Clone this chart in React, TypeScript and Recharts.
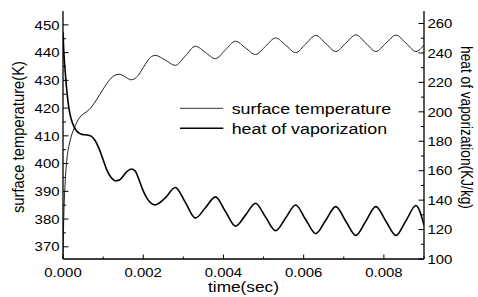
import React from 'react';
import { LineChart, Line, XAxis, YAxis, Legend } from 'recharts';

const times = [
  0, 0.00002, 0.00005, 0.0001, 0.00015, 0.0002, 0.0003, 0.0004, 0.0005, 0.0006,
  0.0007, 0.0008, 0.0009, 0.001, 0.0011, 0.0012, 0.0013, 0.0014, 0.0015, 0.0016,
  0.0017, 0.0018, 0.0019, 0.002, 0.0021, 0.0022, 0.0023, 0.00255, 0.0028, 0.00305,
  0.0033, 0.00355, 0.0038, 0.00405, 0.0043, 0.00455, 0.0048, 0.00505, 0.0053, 0.00555,
  0.0058, 0.00605, 0.0063, 0.00655, 0.0068, 0.00705, 0.0073, 0.00755, 0.0078, 0.00805,
  0.0083, 0.00855, 0.0088, 0.009,
];

const surfaceTemperature = [
  366, 381, 392, 402, 406.5, 409.5, 413.5, 416.3, 417.8, 418.8,
  420.2, 422.2, 424.5, 426.8, 429, 430.8, 431.9, 432.2, 431.7, 430.8,
  430.2, 430.7, 432.3, 434.6, 436.9, 438.5, 439, 437.3, 435.4, 438.8,
  442.3, 440.1, 437.8, 441, 444.1, 441.7, 439.3, 442.3, 445.3, 442.7,
  440, 443.1, 446.2, 443.3, 440.4, 443.4, 446.4, 443.4, 440.4, 443.4,
  446.3, 443.4, 440.4, 442.8,
];

const heatOfVaporization = [
  254, 241, 229, 213, 202, 195.5, 188.5, 185.5, 184.5, 184.3,
  183.5, 180.5, 175, 167.5, 160, 155.3, 153.2, 153.6, 156.3, 159.6,
  161.2, 159.8, 153.5, 146.3, 141, 137.8, 136.8, 141.5, 148.6, 138.5,
  127.8, 134.8, 142.2, 132.3, 122.3, 129.8, 137.9, 128.5, 119.3, 127.8,
  136.7, 126.8, 117.2, 126.3, 135.6, 125.7, 116, 125.7, 135.6, 125.7,
  116, 126, 136.3, 123,
];

const xTicks = [0, 0.001, 0.002, 0.003, 0.004, 0.005, 0.006, 0.007, 0.008, 0.009];
const xMajorTicks = [0, 0.002, 0.004, 0.006, 0.008];
const leftTicks = [370, 375, 380, 385, 390, 395, 400, 405, 410, 415, 420, 425, 430, 435, 440, 445, 450];
const leftMajorTicks = [370, 380, 390, 400, 410, 420, 430, 440, 450];
const rightTicks = [100, 110, 120, 130, 140, 150, 160, 170, 180, 190, 200, 210, 220, 230, 240, 250, 260];
const rightMajorTicks = [100, 120, 140, 160, 180, 200, 220, 240, 260];

const seriesNames = ['surface temperature', 'heat of vaporization'];

const data = times.map((t, i) => ({
  t,
  temp: surfaceTemperature[i],
  heat: heatOfVaporization[i],
}));

const FONT = '"Liberation Sans", Arial, Helvetica, sans-serif';
const SX = 1.15;
const TICK_FS = 13;

const isMajor = (v: number, list: number[]) => list.some((m) => Math.abs(m - v) < 1e-9);

function BottomTick(props: any) {
  const { x, y, payload } = props;
  const major = isMajor(payload.value, xMajorTicks);
  return (
    <g>
      <line x1={x} x2={x} y1={y} y2={y - (major ? 4.5 : 2.5)} stroke="#000" strokeWidth={1} />
      {major && (
        <text
          transform={`translate(${x},${y + 18}) scale(${SX},1)`}
          textAnchor="middle"
          fontSize={TICK_FS}
          fontFamily={FONT}
          fill="#000"
        >
          {Number(payload.value).toFixed(3)}
        </text>
      )}
    </g>
  );
}

function TopTick(props: any) {
  const { x, y, payload } = props;
  const major = isMajor(payload.value, xMajorTicks);
  return (
    <g>
      <line x1={x} x2={x} y1={y} y2={y + (major ? 4.5 : 2.5)} stroke="#000" strokeWidth={1} />
    </g>
  );
}

function LeftTick(props: any) {
  const { x, y, payload } = props;
  const major = isMajor(payload.value, leftMajorTicks);
  return (
    <g>
      <line x1={x} x2={x + (major ? 5.5 : 3)} y1={y} y2={y} stroke="#000" strokeWidth={1} />
      {major && (
        <text
          transform={`translate(${x - 3.5},${y}) scale(${SX},1)`}
          textAnchor="end"
          dy="0.36em"
          fontSize={TICK_FS}
          fontFamily={FONT}
          fill="#000"
        >
          {payload.value}
        </text>
      )}
    </g>
  );
}

function RightTick(props: any) {
  const { x, y, payload } = props;
  const major = isMajor(payload.value, rightMajorTicks);
  return (
    <g>
      <line x1={x} x2={x - (major ? 5.5 : 3)} y1={y} y2={y} stroke="#000" strokeWidth={1} />
      {major && (
        <text
          transform={`translate(${x + 3.5},${y}) scale(${SX},1)`}
          textAnchor="start"
          dy="0.36em"
          fontSize={TICK_FS}
          fontFamily={FONT}
          fill="#000"
        >
          {payload.value}
        </text>
      )}
    </g>
  );
}

const LeftTitle = (p: any) => {
  const vb = p.viewBox;
  const cx = vb.x + 18;
  const cy = vb.y + vb.height / 2 + 2;
  return (
    <text
      transform={`translate(${cx},${cy}) scale(${SX},1) rotate(-90)`}
      textAnchor="middle"
      dy="0.35em"
      fontSize={14.8}
      fontFamily={FONT}
      fill="#000"
    >
      surface temperature(K)
    </text>
  );
};

const RightTitle = (p: any) => {
  const vb = p.viewBox;
  const cx = vb.x + 42.7;
  const cy = vb.y + vb.height / 2 - 7.5;
  return (
    <text
      transform={`translate(${cx},${cy}) scale(${SX},1) rotate(90)`}
      textAnchor="middle"
      dy="0.35em"
      fontSize={13.7}
      fontFamily={FONT}
      fill="#000"
    >
      heat of vaporization(KJ/kg)
    </text>
  );
};

const BottomTitle = (p: any) => {
  const vb = p.viewBox;
  const cx = vb.x + vb.width / 2;
  const cy = vb.y + 33.3;
  return (
    <text
      transform={`translate(${cx},${cy}) scale(${SX},1)`}
      textAnchor="middle"
      fontSize={15}
      fontFamily={FONT}
      fill="#000"
    >
      time(sec)
    </text>
  );
};

const LegendContent = () => (
  <svg width={240} height={44} style={{ display: 'block' }}>
    <line x1={2} x2={45.3} y1={12.3} y2={12.3} stroke="#333" strokeWidth={1} />
    <text
      transform={`translate(53.7,12.3) scale(${SX},1)`}
      dy="0.35em"
      fontSize={15.5}
      fontFamily={FONT}
      fill="#000"
    >
      {seriesNames[0]}
    </text>
    <line x1={2} x2={45.3} y1={32.3} y2={32.3} stroke="#000" strokeWidth={1.6} />
    <text
      transform={`translate(53.7,32.3) scale(${SX},1)`}
      dy="0.35em"
      fontSize={15.5}
      fontFamily={FONT}
      fill="#000"
    >
      {seriesNames[1]}
    </text>
  </svg>
);

export default function App() {
  return (
    <div style={{ position: 'absolute', left: 0, top: 0, width: 478, height: 297, background: '#fff' }}>
      <LineChart width={478} height={297} data={data} margin={{ top: 11, right: 0, bottom: 0, left: 0 }}>
        <XAxis
          dataKey="t"
          type="number"
          domain={[0, 0.009]}
          allowDataOverflow
          ticks={xTicks}
          interval={0}
          height={38}
          tickSize={0}
          tickMargin={0}
          tickLine={false}
          axisLine={{ stroke: '#000', strokeWidth: 1.3 }}
          tick={<BottomTick />}
          label={BottomTitle}
        />
        <XAxis
          xAxisId="top"
          orientation="top"
          dataKey="t"
          type="number"
          domain={[0, 0.009]}
          allowDataOverflow
          ticks={xTicks}
          interval={0}
          height={0}
          tickSize={0}
          tickMargin={0}
          tickLine={false}
          axisLine={{ stroke: '#000', strokeWidth: 1.3 }}
          tick={<TopTick />}
        />
        <YAxis
          yAxisId="left"
          orientation="left"
          type="number"
          domain={[365.6, 455]}
          allowDataOverflow
          ticks={leftTicks}
          interval={0}
          width={63}
          tickSize={0}
          tickMargin={0}
          tickLine={false}
          axisLine={{ stroke: '#000', strokeWidth: 1.3 }}
          tick={<LeftTick />}
          label={LeftTitle}
        />
        <YAxis
          yAxisId="right"
          orientation="right"
          type="number"
          domain={[100, 268.5]}
          allowDataOverflow
          ticks={rightTicks}
          interval={0}
          width={54}
          tickSize={0}
          tickMargin={0}
          tickLine={false}
          axisLine={{ stroke: '#000', strokeWidth: 1.3 }}
          tick={<RightTick />}
          label={RightTitle}
        />
        <Legend
          layout="vertical"
          align="center"
          verticalAlign="middle"
          wrapperStyle={{ position: 'absolute', left: 178, top: 96, width: 240, height: 44 }}
          content={LegendContent}
        />
        <Line
          yAxisId="left"
          dataKey="temp"
          name={seriesNames[0]}
          type="monotone"
          stroke="#222"
          strokeWidth={1}
          dot={false}
          activeDot={false}
          isAnimationActive={false}
        />
        <Line
          yAxisId="right"
          dataKey="heat"
          name={seriesNames[1]}
          type="monotone"
          stroke="#000"
          strokeWidth={1.6}
          dot={false}
          activeDot={false}
          isAnimationActive={false}
        />
      </LineChart>
    </div>
  );
}
